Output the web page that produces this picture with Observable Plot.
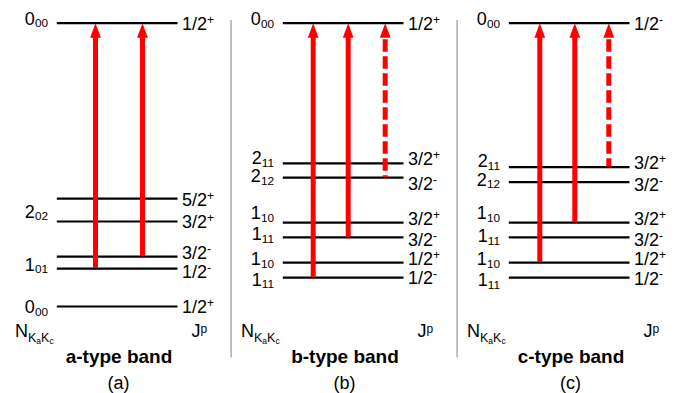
<!DOCTYPE html>
<html><head><meta charset="utf-8">
<script src="https://cdn.jsdelivr.net/npm/d3@7"></script>
<script src="https://cdn.jsdelivr.net/npm/@observablehq/plot@0.6"></script>
<style>
html,body{margin:0;padding:0;background:#fff;}
#chart svg{display:block;}
</style></head><body><div id="chart"></div>
<script>
// ---- data (energies in arbitrary units; upper 0_00 level = 100) ----
const panels = ["a", "b", "c"];
const bandNames = ["a-type band", "b-type band", "c-type band"];
const panelTags = ["(a)", "(b)", "(c)"];

const levelsA = [100, 38.1, 30.0, 17.6, 13.4, 0];
const levelsB = [100, 50.5, 45.5, 29.6, 24.4, 15.5, 10.2];
const levelsC = [100, 49.2, 43.9, 29.6, 24.4, 15.5, 10.2];

const jpA = ["1/2^{+}", "5/2^{+}", "3/2^{+}", "3/2^{-}", "1/2^{-}", "1/2^{+}"];
const jpB = ["1/2^{+}", "3/2^{+}", "3/2^{-}", "3/2^{+}", "3/2^{-}", "1/2^{+}", "1/2^{-}"];
const jpC = ["1/2^{-}", "3/2^{+}", "3/2^{-}", "3/2^{+}", "3/2^{-}", "1/2^{+}", "1/2^{-}"];
const jpPosA = [100, 37.8, 30.0, 18.9, 12.2, 0];
const jpPosB = [100, 52.2, 43.4, 31.1, 23.6, 16.9, 10.1];
const jpPosC = [100, 50.8, 43.1, 31.0, 23.6, 16.8, 10.0];

const nameA = ["0_{00}", "2_{02}", "1_{01}", "0_{00}"];
const nameB = ["0_{00}", "2_{11}", "2_{12}", "1_{10}", "1_{11}", "1_{10}", "1_{11}"];
const nameC = ["0_{00}", "2_{11}", "2_{12}", "1_{10}", "1_{11}", "1_{10}", "1_{11}"];
const namePosA = [101.8, 33.7, 15.0, 0];
const namePosB = [101.5, 52.7, 46.2, 33.2, 25.6, 16.8, 9.7];
const namePosC = [101.5, 51.5, 45.0, 33.2, 25.1, 16.8, 9.4];

const upperLevel = 100;
const fromA = [13.4, 17.6];
const fromB = [10.2, 24.4, 45.5];
const fromC = [15.5, 29.6, 49.2];
const dashedA = [false, false];
const dashedB = [false, false, true];
const dashedC = [false, false, true];

const axisLabelN = "N_{K_{a}K_{c}}";
const axisLabelJ = "J^{p}";

// ---- layout ----
const slots = {a: [94, 141], b: [85.7, 120.7, 157.7], c: [86.3, 121.3, 155.3]};
const lineX1 = 55.8, lineX2 = 176.5;
const RED = "#ff0000";
const FONT = "'Liberation Sans', Arial, Helvetica, sans-serif";

const levelRows = [
  ...levelsA.map(e => ({panel: "a", e})),
  ...levelsB.map(e => ({panel: "b", e})),
  ...levelsC.map(e => ({panel: "c", e}))
];
const jpRows = [
  ...jpA.map((t, i) => ({panel: "a", t, e: jpPosA[i]})),
  ...jpB.map((t, i) => ({panel: "b", t, e: jpPosB[i]})),
  ...jpC.map((t, i) => ({panel: "c", t, e: jpPosC[i]}))
];
const nameRows = [
  ...nameA.map((t, i) => ({panel: "a", t, e: namePosA[i]})),
  ...nameB.map((t, i) => ({panel: "b", t, e: namePosB[i]})),
  ...nameC.map((t, i) => ({panel: "c", t, e: namePosC[i]}))
];
const mk = (p, from, dashed) => from.map((f, i) => ({panel: p, from: f, to: upperLevel, dashed: dashed[i], x: slots[p][i]}));
const trans = [...mk("a", fromA, dashedA), ...mk("b", fromB, dashedB), ...mk("c", fromC, dashedC)];
const footRows = panels.map((p, i) => ({panel: p, band: bandNames[i], tag: panelTags[i], n: axisLabelN, j: axisLabelJ}));

const headSymbol = {
  draw(ctx) {
    ctx.moveTo(0, 0);
    ctx.lineTo(5.4, 14.6);
    ctx.lineTo(-5.4, 14.6);
    ctx.closePath();
  }
};

const svg = Plot.plot({
  width: 679, height: 393,
  marginTop: 0, marginRight: 0, marginBottom: 0, marginLeft: 0,
  style: {fontFamily: FONT, background: "#fff", color: "#000"},
  fx: {domain: panels, padding: 0, axis: null, range: [0, 679]},
  x: {domain: [0, 679 / 3], range: [0, 679 / 3], axis: null},
  y: {domain: [0, 100], range: [306, 22.7], axis: null},
  marks: [
    Plot.ruleX([{panel: "b"}, {panel: "c"}], {fx: "panel", x: 3.6, stroke: "#b3b3b3", strokeWidth: 1.6, insetTop: 20, insetBottom: 35.5}),
    Plot.ruleY(levelRows, {fx: "panel", y: "e", x1: lineX1, x2: lineX2, stroke: "#000", strokeWidth: 2.2}),
    Plot.ruleX(trans.filter(d => !d.dashed), {fx: "panel", x: "x", y1: "to", y2: "from", stroke: RED, strokeWidth: 5, insetTop: 12}),
    Plot.ruleX(trans.filter(d => d.dashed), {fx: "panel", x: "x", y1: "to", y2: "from", stroke: RED, strokeWidth: 5, insetTop: 16.5, strokeDasharray: "12.5,4.5"}),
    Plot.dot(trans, {fx: "panel", x: "x", y: "to", symbol: headSymbol, fill: RED, stroke: "none", r: 5}),
    Plot.text(jpRows, {fx: "panel", x: 180.5, y: "e", text: "t", textAnchor: "start", lineAnchor: "bottom", dy: 6.5, fontSize: 18, fill: "#000"}),
    Plot.text(nameRows, {fx: "panel", x: 46.5, y: "e", text: "t", textAnchor: "end", lineAnchor: "bottom", dy: 6.5, fontSize: 18, fill: "#000"}),
    Plot.text(footRows, {fx: "panel", x: 13.5, frameAnchor: "bottom", text: "n", textAnchor: "start", lineAnchor: "bottom", dy: -56.3, fontSize: 18, fill: "#000"}),
    Plot.text(footRows, {fx: "panel", x: 190, frameAnchor: "bottom", text: "j", textAnchor: "start", lineAnchor: "bottom", dy: -56.3, fontSize: 18, fill: "#000"}),
    Plot.text(footRows, {fx: "panel", x: 117.5, frameAnchor: "bottom", text: "band", textAnchor: "middle", lineAnchor: "bottom", dy: -30.2, fontSize: 19, fontWeight: "bold", fill: "#000"}),
    Plot.text(footRows, {fx: "panel", x: 117, frameAnchor: "bottom", text: "tag", textAnchor: "middle", lineAnchor: "bottom", dy: -4.5, fontSize: 18, fill: "#000"})
  ]
});

// ---- rich text: _{sub}, ^{sup} ----
function parseRich(s, lvl = 0, out = []) {
  let buf = "", i = 0;
  while (i < s.length) {
    const c = s[i];
    if ((c === "_" || c === "^") && s[i + 1] === "{") {
      if (buf) { out.push({t: buf, lvl}); buf = ""; }
      let depth = 1, j = i + 2;
      while (j < s.length && depth > 0) { if (s[j] === "{") depth++; else if (s[j] === "}") depth--; j++; }
      parseRich(s.slice(i + 2, j - 1), c === "_" ? lvl - 1 : lvl + 1, out);
      i = j;
    } else { buf += c; i++; }
  }
  if (buf) out.push({t: buf, lvl});
  return out;
}
function styleFor(seg) {
  const letter = /[A-Za-z]/.test(seg.t);
  if (seg.lvl === 0) return {fs: 18, sh: 0};
  if (seg.lvl === 1) return {fs: 12, sh: letter ? -4 : -6.2};
  if (seg.lvl === -1) return {fs: letter ? 12.5 : 11.8, sh: letter ? 4.5 : 2.8};
  return {fs: 8.5, sh: 7};
}
d3.select(svg).selectAll("text").each(function () {
  const s = this.textContent;
  if (!/[_^]\{/.test(s)) return;
  const segs = parseRich(s);
  this.textContent = "";
  let cur = 0;
  for (const seg of segs) {
    const st = styleFor(seg);
    const ts = document.createElementNS("http://www.w3.org/2000/svg", "tspan");
    ts.setAttribute("font-size", st.fs);
    ts.setAttribute("dy", st.sh - cur);
    cur = st.sh;
    ts.textContent = seg.t;
    this.appendChild(ts);
  }
});

document.getElementById("chart").appendChild(svg);
</script>
</body></html>
